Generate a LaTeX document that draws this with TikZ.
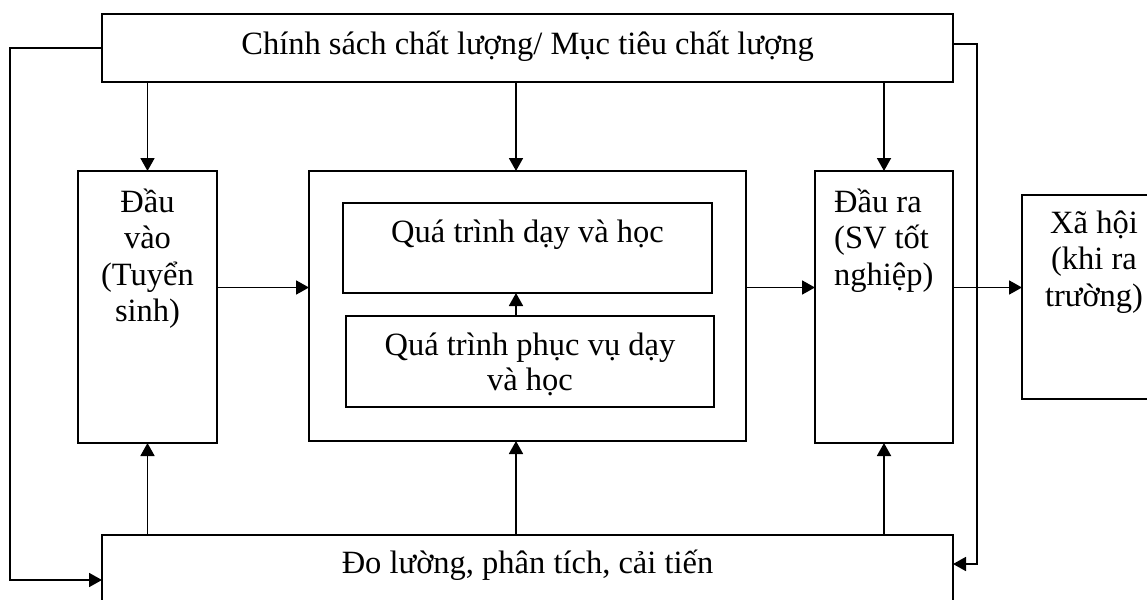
\documentclass[tikz,border=0pt]{standalone}
\usepackage{fontspec}
\setmainfont{Liberation Serif}
\usetikzlibrary{arrows.meta}
\begin{document}
\begin{tikzpicture}[x=1pt,y=-1pt,
  box/.style={draw, line width=1.8pt, rectangle, inner sep=0pt, outer sep=0pt},
  txt/.style={inner sep=0pt, anchor=base, font=\fontsize{32.5}{36.7}\selectfont},
  txtl/.style={txt, anchor=base west},
  arr/.style={line width=1.8pt, -{Triangle[length=13pt,width=14pt]}}]
\clip (0,0) rectangle (1147,599);
\fill[white] (0,0) rectangle (1147,599);

% boxes
\node[box, minimum width=851pt, minimum height=68pt]  (top)  at (527.5,48)  {};
\node[box, minimum width=139pt, minimum height=272pt] (inL)  at (147.5,307) {};
\node[box, minimum width=437pt, minimum height=270pt] (mid)  at (527.5,306) {};
\node[box, minimum width=369pt, minimum height=90pt]  (in1)  at (527.5,248) {};
\node[box, minimum width=368pt, minimum height=91pt]  (in2)  at (530,361.5) {};
\node[box, minimum width=138pt, minimum height=272pt] (outR) at (884,307)   {};
\node[box, minimum width=144pt, minimum height=204pt] (soc)  at (1094,297)  {};
\node[box, minimum width=851pt, minimum height=90pt]  (bot)  at (527.5,580) {};

% labels
\node[txt] (ttop) at (527.5,55) {Chính sách chất lượng/ Mục tiêu chất lượng};
\node[txt] (tin1) at (527.5,242) {Quá trình dạy và học};
\node[txt] (tin2a) at (530,355) {Quá trình phục vụ dạy};
\node[txt] (tin2b) at (530,390) {và học};
\node[txt] (tbot) at (527.5,573) {Đo lường, phân tích, cải tiến};
\node[txt] (tinL1) at (147.5,212)   {Đầu};
\node[txt] (tinL2) at (147.5,248.5) {vào};
\node[txt] (tinL3) at (147.5,285)   {(Tuyển};
\node[txt] (tinL4) at (147.5,321.5) {sinh)};
\node[txtl] (tout1) at (834,212)   {Đầu ra};
\node[txtl] (tout2) at (834,248.5) {(SV tốt};
\node[txtl] (tout3) at (834,285)   {nghiệp)};
\node[txt] (tsoc1) at (1094,233)   {Xã hội};
\node[txt] (tsoc2) at (1094,269.5) {(khi ra};
\node[txt] (tsoc3) at (1094,306)   {trường)};

% helper positions
\coordinate (mx)  at (516,0);
\coordinate (hy)  at (0,287.5);
\coordinate (lx)  at (10,0);
\coordinate (rx)  at (977,0);
\coordinate (ry1) at (0,44);
\coordinate (ry2) at (0,564);

% top-down arrows
\draw[arr] (top.south -| inL.north) -- (inL.north);
\draw[arr] (top.south -| mx) -- (mid.north -| mx);
\draw[arr] (top.south -| outR.north) -- (outR.north);
\draw[arr] (in2.north -| mx) -- (in1.south -| mx);

% bottom-up arrows
\draw[arr] (bot.north -| inL.south) -- (inL.south);
\draw[arr] (bot.north -| mx) -- (mid.south -| mx);
\draw[arr] (bot.north -| outR.south) -- (outR.south);

% main flow
\draw[arr] (inL.east |- hy) -- (mid.west |- hy);
\draw[arr] (mid.east |- hy) -- (outR.west |- hy);
\draw[arr] (outR.east |- hy) -- (soc.west |- hy);

% feedback loops
\draw[arr] (top.west) -- (top.west -| lx) |- (bot.west);
\draw[arr] (top.east |- ry1) -| (rx |- ry2) -- (bot.east |- ry2);
\end{tikzpicture}
\end{document}
